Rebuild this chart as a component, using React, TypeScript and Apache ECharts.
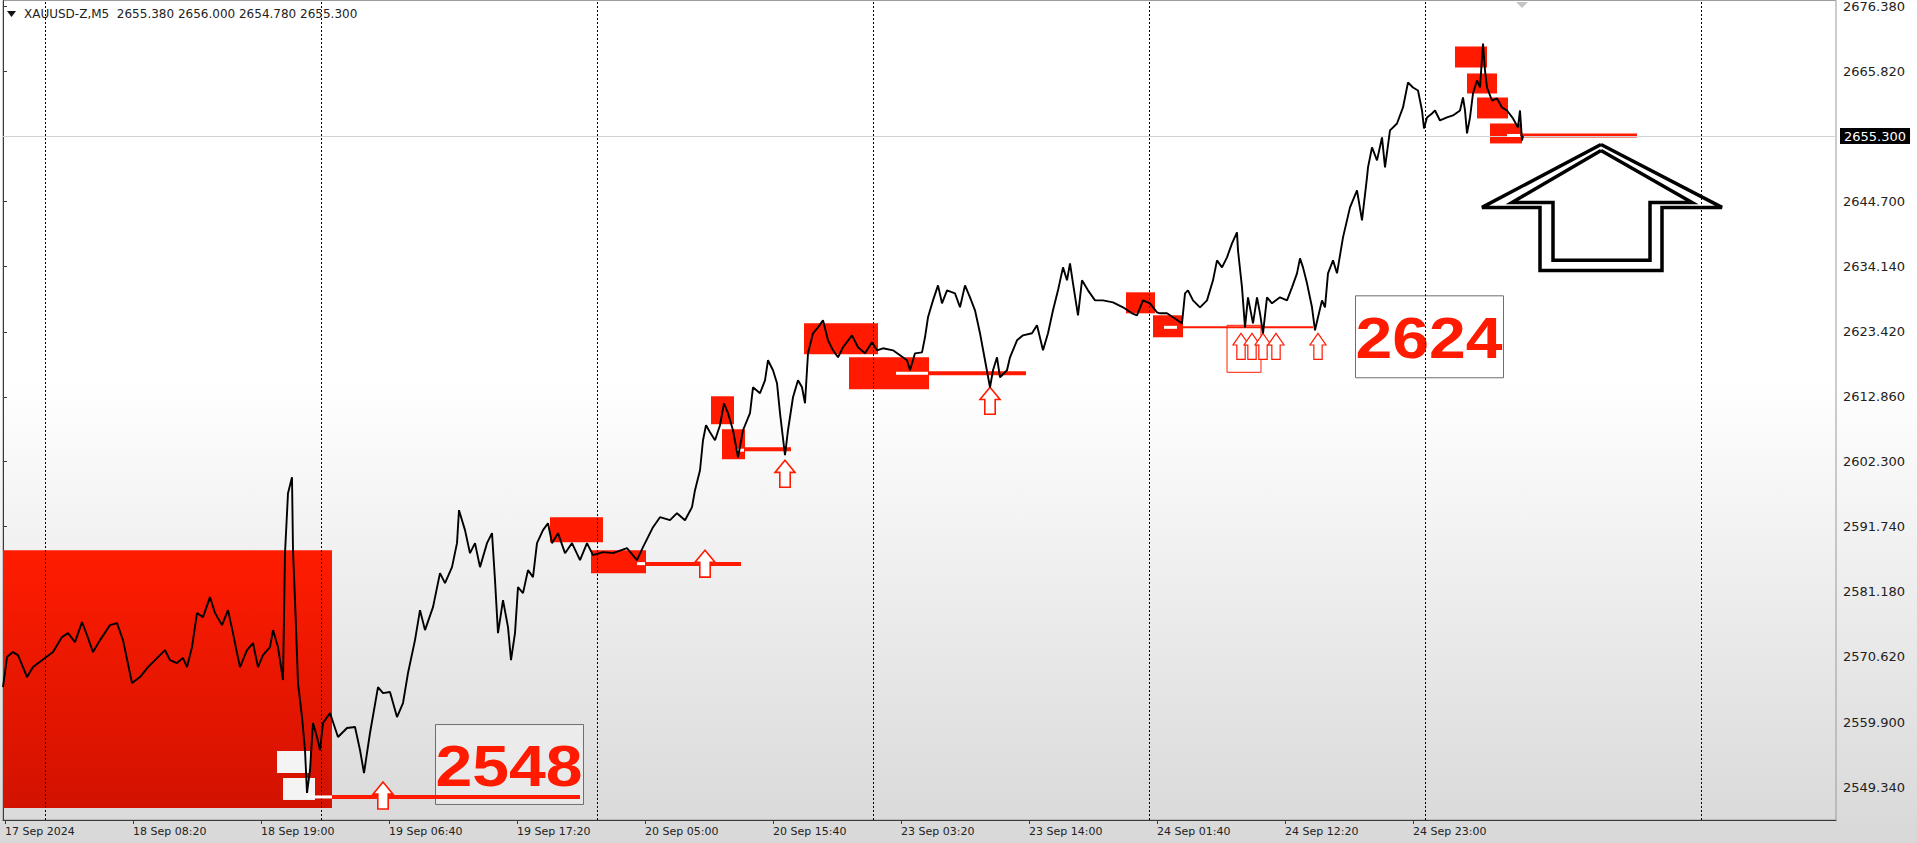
import React, { useEffect, useRef } from 'react';
import * as echarts from 'echarts';

// ---- axis data ----
const yTickValues = [2549.34, 2559.9, 2570.62, 2581.18, 2591.74, 2602.3, 2612.86, 2623.42, 2634.14, 2644.7, 2665.82, 2676.38];
const xTickLabels = ['17 Sep 2024', '18 Sep 08:20', '18 Sep 19:00', '19 Sep 06:40', '19 Sep 17:20', '20 Sep 05:00', '20 Sep 15:40', '23 Sep 03:20', '23 Sep 14:00', '24 Sep 01:40', '24 Sep 12:20', '24 Sep 23:00'];
const xTickBars = [2, 130, 258, 386, 514, 642, 770, 898, 1026, 1154, 1282, 1410];
const daySeparatorBars = [42, 318, 594, 870, 1146, 1422, 1698];
const currentPrice = 2655.3;
const headerText = 'XAUUSD-Z,M5  2655.380 2656.000 2654.780 2655.300';

// ---- price line [bar index, price] ----
const priceLine: [number, number][] = [
  [0, 2565.61], [4, 2570.49], [10, 2571.3], [15, 2570.81], [20, 2568.86], [24, 2567.24], [30, 2568.86], [42, 2570.33],
  [50, 2571.3], [59, 2573.74], [65, 2574.39], [72, 2572.93], [79, 2576.18], [84, 2574.07], [90, 2571.3], [97, 2573.25],
  [107, 2575.69], [114, 2576.02], [120, 2573.25], [129, 2566.26], [137, 2567.24], [145, 2568.86], [154, 2570.33],
  [162, 2571.63], [167, 2570.0], [174, 2569.51], [180, 2570.33], [184, 2568.86], [189, 2572.12], [194, 2577.65],
  [200, 2576.99], [207, 2580.25], [212, 2577.65], [219, 2575.69], [225, 2578.13], [230, 2574.39], [234, 2571.14],
  [237, 2568.86], [244, 2571.63], [250, 2572.77], [255, 2568.86], [260, 2570.81], [267, 2572.12], [270, 2574.88],
  [275, 2572.12], [280, 2566.75], [282, 2587.4], [285, 2597.16], [289, 2599.77], [290, 2587.89], [292, 2579.76],
  [295, 2566.26], [299, 2560.73], [302, 2555.36], [304, 2548.37], [307, 2552.11], [310, 2559.75], [314, 2557.48],
  [317, 2555.36], [320, 2559.75], [327, 2561.38], [335, 2557.48], [344, 2558.94], [352, 2559.1], [357, 2555.36],
  [361, 2551.62], [367, 2558.13], [375, 2565.61], [380, 2564.63], [387, 2564.8], [394, 2560.73], [400, 2563.01],
  [405, 2567.89], [412, 2573.25], [417, 2578.13], [422, 2574.88], [430, 2578.62], [437, 2584.15], [442, 2582.53],
  [449, 2585.13], [454, 2589.03], [456, 2594.4], [462, 2591.15], [467, 2587.4], [472, 2589.03], [477, 2585.13],
  [484, 2589.03], [489, 2590.66], [492, 2583.01], [495, 2574.39], [500, 2579.76], [505, 2575.37], [508, 2570.0],
  [512, 2574.39], [515, 2581.87], [520, 2580.9], [525, 2584.64], [530, 2583.5], [534, 2589.03], [540, 2591.15],
  [545, 2592.28], [549, 2589.03], [555, 2590.66], [562, 2587.4], [569, 2589.03], [577, 2586.27], [584, 2589.03],
  [590, 2587.08], [600, 2587.57], [610, 2587.4], [624, 2588.22], [634, 2586.27], [640, 2588.38], [650, 2591.63],
  [657, 2593.26], [667, 2592.77], [674, 2593.91], [682, 2592.77], [689, 2594.89], [692, 2597.65], [697, 2600.9],
  [700, 2605.78], [703, 2608.22], [707, 2607.09], [712, 2605.78], [717, 2608.22], [721, 2611.8], [725, 2610.18],
  [730, 2607.41], [735, 2603.02], [740, 2607.41], [747, 2610.18], [750, 2614.4], [757, 2613.43], [762, 2615.54],
  [765, 2618.8], [770, 2617.17], [774, 2615.06], [777, 2610.18], [782, 2603.34], [785, 2607.41], [790, 2612.78],
  [795, 2615.54], [799, 2614.4], [802, 2611.8], [805, 2619.93], [810, 2623.19], [815, 2624.16], [820, 2625.3],
  [825, 2622.05], [830, 2620.42], [835, 2619.28], [840, 2620.91], [849, 2622.86], [855, 2620.91], [862, 2619.93],
  [869, 2621.72], [874, 2620.42], [880, 2620.75], [890, 2620.42], [897, 2619.61], [904, 2618.8], [907, 2617.17],
  [912, 2619.93], [919, 2620.09], [922, 2622.54], [925, 2625.79], [930, 2628.55], [935, 2630.99], [939, 2628.07],
  [944, 2630.18], [952, 2629.69], [957, 2627.42], [962, 2630.99], [967, 2629.04], [972, 2626.93], [977, 2623.19],
  [982, 2618.8], [987, 2614.4], [990, 2617.17], [994, 2619.28], [997, 2616.03], [1004, 2617.17], [1007, 2619.28],
  [1014, 2622.05], [1020, 2622.86], [1029, 2623.19], [1034, 2624.49], [1040, 2620.42], [1045, 2623.19], [1050, 2626.93],
  [1055, 2630.18], [1060, 2633.92], [1064, 2631.81], [1067, 2634.57], [1070, 2631.32], [1075, 2626.12], [1079, 2631.81],
  [1085, 2630.18], [1092, 2628.55], [1100, 2628.55], [1110, 2628.23], [1120, 2627.42], [1129, 2626.44], [1134, 2626.12],
  [1140, 2628.55], [1147, 2628.07], [1154, 2626.6], [1157, 2626.44], [1164, 2626.44], [1170, 2625.79], [1179, 2624.81],
  [1182, 2629.69], [1185, 2630.18], [1190, 2628.55], [1197, 2627.42], [1204, 2628.55], [1210, 2631.81], [1214, 2635.06],
  [1219, 2633.92], [1224, 2635.55], [1229, 2637.83], [1234, 2639.62], [1235, 2636.69], [1239, 2630.67], [1242, 2624.16],
  [1245, 2629.04], [1250, 2624.81], [1254, 2629.04], [1257, 2626.44], [1260, 2623.19], [1264, 2629.04], [1269, 2628.07],
  [1277, 2629.04], [1284, 2628.55], [1289, 2630.67], [1294, 2632.95], [1297, 2635.39], [1300, 2633.92], [1304, 2631.32],
  [1309, 2627.42], [1312, 2623.68], [1315, 2625.79], [1319, 2628.55], [1322, 2627.42], [1325, 2632.95], [1330, 2635.06],
  [1334, 2632.95], [1340, 2638.8], [1347, 2643.68], [1354, 2646.45], [1359, 2641.57], [1364, 2648.56], [1365, 2650.19],
  [1369, 2653.44], [1374, 2651.33], [1379, 2655.07], [1382, 2650.19], [1387, 2656.21], [1394, 2657.34], [1400, 2659.95],
  [1405, 2664.01], [1410, 2663.2], [1415, 2662.71], [1419, 2659.46], [1421, 2656.53], [1424, 2658.32], [1429, 2658.97],
  [1432, 2659.46], [1437, 2657.83], [1444, 2658.32], [1450, 2658.65], [1457, 2659.46], [1460, 2661.57], [1462, 2659.46],
  [1464, 2655.72], [1467, 2658.32], [1470, 2662.22], [1474, 2664.34], [1477, 2663.2], [1480, 2670.36], [1482, 2665.96],
  [1484, 2663.2], [1489, 2661.08], [1494, 2661.41], [1499, 2659.95], [1504, 2659.46], [1510, 2658.16], [1515, 2656.69],
  [1517, 2659.46], [1519, 2654.58], [1520, 2655.3],
];

// ---- zones [barStart, barEnd, priceTop, priceBottom] ----
const sessionZone = [[0, 329, 2587.89, 2545.93]];
const redZones = [
  [547, 600, 2593.26, 2589.19], [588, 643, 2587.89, 2584.15],
  [708, 731, 2612.94, 2608.39], [719, 742, 2607.57, 2602.69],
  [801, 875, 2624.81, 2619.77], [846, 926, 2619.28, 2614.08],
  [1123, 1152, 2629.86, 2626.44], [1150, 1180, 2626.12, 2622.54],
  [1452, 1484, 2669.87, 2666.45], [1464, 1494, 2665.48, 2662.22],
  [1474, 1505, 2661.57, 2658.16], [1487, 1519, 2657.34, 2654.09],
];
const whiteZones = [[274, 307, 2555.2, 2551.62], [280, 312, 2550.81, 2547.23]];
const outlineZones = [[1224, 1258, 2624.49, 2616.84]];
// ---- level lines [barStart, barEnd, price] ----
const levelLines = [[329, 577, 2547.72], [642, 738, 2585.62], [741, 788, 2604.32], [926, 1023, 2616.68], [1519, 1634, 2655.39]];
const thinLevelLines = [[1180, 1310, 2624.16]];
const whiteDashes = [[304, 329, 2547.72], [634, 642, 2585.7], [734, 741, 2604.16], [893, 925, 2616.68], [1161, 1174, 2624.16], [1504, 1517, 2655.39]];
// ---- up arrows [bar, price at tip] ----
const boldArrows = [[380, 2550.16], [702, 2587.89], [782, 2602.53], [987, 2614.4]];
const thinArrows = [[1238, 2623.19], [1249, 2623.19], [1260, 2623.19], [1273, 2623.19], [1315, 2623.19]];
// ---- labelled boxes ----
const boxTexts = ['2548', '2624'];
const boxRanges = [[432, 580, 2559.59, 2546.58], [1352, 1500, 2629.37, 2616.03]];
// ---- big hollow arrow outlines ----
const bigArrowOuter: [number, number][] = [[1598, 2653.93], [1719, 2643.68], [1659, 2643.68], [1659, 2633.43], [1537, 2633.43], [1537, 2643.68], [1479, 2643.68], [1598, 2653.93]];
const bigArrowInner: [number, number][] = [[1598, 2652.95], [1689, 2644.49], [1647, 2644.49], [1647, 2635.06], [1550, 2635.06], [1550, 2644.49], [1509, 2644.49], [1598, 2652.95]];

const RED = '#ff1a00';

function rectItem(fill: any, stroke?: string, lw?: number) {
  return (_p: any, api: any) => {
    const a = api.coord([api.value(0), api.value(2)]);
    const b = api.coord([api.value(1), api.value(3)]);
    return {
      type: 'rect',
      shape: { x: a[0], y: a[1], width: b[0] - a[0], height: b[1] - a[1] },
      style: { fill, stroke: stroke || null, lineWidth: lw || 0 },
    };
  };
}
function lineItem(color: string, width: number) {
  return (_p: any, api: any) => {
    const a = api.coord([api.value(0), api.value(2)]);
    const b = api.coord([api.value(1), api.value(2)]);
    return { type: 'line', shape: { x1: a[0], y1: a[1], x2: b[0], y2: b[1] }, style: { stroke: color, lineWidth: width } };
  };
}
function arrowItem(w: number, h: number, lw: number) {
  return (_p: any, api: any) => {
    const p = api.coord([api.value(0), api.value(1)]);
    const hw = w / 2, sw = w * 0.26, hh = h * 0.45;
    const x = p[0], y = p[1];
    return {
      type: 'polygon',
      shape: { points: [[x, y], [x + hw, y + hh], [x + sw, y + hh], [x + sw, y + h], [x - sw, y + h], [x - sw, y + hh], [x - hw, y + hh]] },
      style: { fill: '#ffffff', stroke: RED, lineWidth: lw },
    };
  };
}
function boxItem(_p: any, api: any) {
  const a = api.coord([api.value(0), api.value(2)]);
  const b = api.coord([api.value(1), api.value(3)]);
  const text = boxTexts[_p.dataIndex];
  return {
    type: 'group',
    children: [
      { type: 'rect', shape: { x: a[0] + 0.5, y: a[1] + 0.5, width: b[0] - a[0], height: b[1] - a[1] }, style: { fill: 'rgba(255,255,255,0.35)', stroke: '#6e6e6e', lineWidth: 1 } },
      {
        type: 'text', x: (a[0] + b[0]) / 2, y: (a[1] + b[1]) / 2 + 2, scaleX: 1.16,
        style: { text, fill: RED, font: 'bold 57px "Liberation Sans", Arial, sans-serif', align: 'center', verticalAlign: 'middle' },
      },
    ],
  };
}

export default function App() {
  const ref = useRef<HTMLDivElement>(null);
  useEffect(() => {
    const chart = echarts.init(ref.current!, undefined, { renderer: 'svg' });
    const option: any = {
      animation: false,
      grid: { left: 3, right: 81, top: 0, bottom: 23, show: true, borderColor: '#9a9a9a', borderWidth: 1 },
      xAxis: {
        type: 'value', min: 0, max: 1833,
        axisLine: { show: true, lineStyle: { color: '#3a3a3a', width: 1 } },
        axisTick: { show: true, customValues: xTickBars, length: 4, lineStyle: { color: '#3a3a3a' } },
        axisLabel: {
          customValues: xTickBars, align: 'left', margin: 6, color: '#222', fontSize: 11,
          fontFamily: '"DejaVu Sans", sans-serif',
          formatter: (v: number) => xTickLabels[xTickBars.indexOf(Math.round(v))] || '',
        },
        splitLine: { show: false },
      },
      yAxis: {
        type: 'value', position: 'right', min: 2543.97, max: 2677.35, scale: true,
        axisLine: { show: true, lineStyle: { color: '#3a3a3a', width: 1 } },
        axisTick: { show: true, customValues: yTickValues, length: 4, lineStyle: { color: '#3a3a3a' } },
        axisLabel: {
          customValues: yTickValues, margin: 7, color: '#222', fontSize: 13,
          fontFamily: '"DejaVu Sans", sans-serif',
          formatter: (v: number) => v.toFixed(3),
        },
        splitLine: { show: false },
      },
      graphic: [
        { type: 'polygon', shape: { points: [[7, 11], [16, 11], [11.5, 17]] }, style: { fill: '#111' }, z: 100 },
        { type: 'text', left: 24, top: 8, style: { text: headerText, font: '12px "DejaVu Sans", sans-serif', fill: '#222' }, z: 100 },
        { type: 'polygon', shape: { points: [[1516, 2], [1528, 2], [1522, 8]] }, style: { fill: '#c4c4c4' }, z: 100 },
      ],
      series: [
        {
          type: 'custom', name: 'session', z: 1, silent: true, data: sessionZone, encode: { x: [0, 1], y: [2, 3] },
          renderItem: rectItem(new echarts.graphic.LinearGradient(0, 0, 0, 1, [{ offset: 0, color: '#ff1c00' }, { offset: 1, color: '#d21200' }])),
        },
        { type: 'custom', name: 'zones', z: 2, silent: true, data: redZones, encode: { x: [0, 1], y: [2, 3] }, renderItem: rectItem(RED) },
        { type: 'custom', name: 'white', z: 3, silent: true, data: whiteZones, encode: { x: [0, 1], y: [2, 3] }, renderItem: rectItem('#f4f4f4') },
        { type: 'custom', name: 'outline', z: 3, silent: true, data: outlineZones, encode: { x: [0, 1], y: [2, 3] }, renderItem: rectItem('none', RED, 1) },
        { type: 'custom', name: 'boxes', z: 3, silent: true, data: boxRanges, encode: { x: [0, 1], y: [2, 3] }, renderItem: boxItem },
        { type: 'custom', name: 'levels', z: 4, silent: true, data: levelLines, encode: { x: [0, 1], y: [2] }, renderItem: lineItem(RED, 4) },
        { type: 'custom', name: 'thinLevels', z: 4, silent: true, data: thinLevelLines, encode: { x: [0, 1], y: [2] }, renderItem: lineItem(RED, 2) },
        { type: 'custom', name: 'dashes', z: 5, silent: true, data: whiteDashes, encode: { x: [0, 1], y: [2] }, renderItem: lineItem('#ffffff', 3) },
        { type: 'custom', name: 'arrows', z: 6, silent: true, data: boldArrows, encode: { x: 0, y: 1 }, renderItem: arrowItem(20, 27, 1.6) },
        { type: 'custom', name: 'thinArrows', z: 6, silent: true, data: thinArrows, encode: { x: 0, y: 1 }, renderItem: arrowItem(16, 26, 1.2) },
        {
          type: 'line', name: 'outer', z: 7, silent: true, data: bigArrowOuter, showSymbol: false,
          lineStyle: { color: '#000', width: 3.5, join: 'miter' },
        },
        {
          type: 'line', name: 'inner', z: 7, silent: true, data: bigArrowInner, showSymbol: false,
          lineStyle: { color: '#000', width: 3.5, join: 'miter' },
        },
        {
          type: 'line', name: 'price', z: 10, silent: true, data: priceLine, showSymbol: false,
          lineStyle: { color: '#000', width: 1.9 },
          markLine: {
            silent: true, symbol: ['none', 'none'], animation: false,
            data: [
              ...daySeparatorBars.map((b) => ({ xAxis: b, lineStyle: { color: '#000', type: [2, 2], width: 1 }, label: { show: false } })),
              {
                yAxis: currentPrice, lineStyle: { color: '#d2d2d2', type: 'solid', width: 1 },
                label: {
                  show: true, position: 'end', distance: 4, formatter: currentPrice.toFixed(3), color: '#fff', backgroundColor: '#000',
                  padding: [2, 4, 1, 4], fontSize: 13, fontFamily: '"DejaVu Sans", sans-serif',
                },
              },
            ],
          },
        },
      ],
    };
    chart.setOption(option);
    return () => chart.dispose();
  }, []);
  return (
    <div
      ref={ref}
      style={{
        position: 'absolute', left: 0, top: 0, width: 1917, height: 843,
        background: 'linear-gradient(to bottom, #ffffff 0%, #ffffff 45%, #d8d8d8 100%)',
      }}
    />
  );
}
